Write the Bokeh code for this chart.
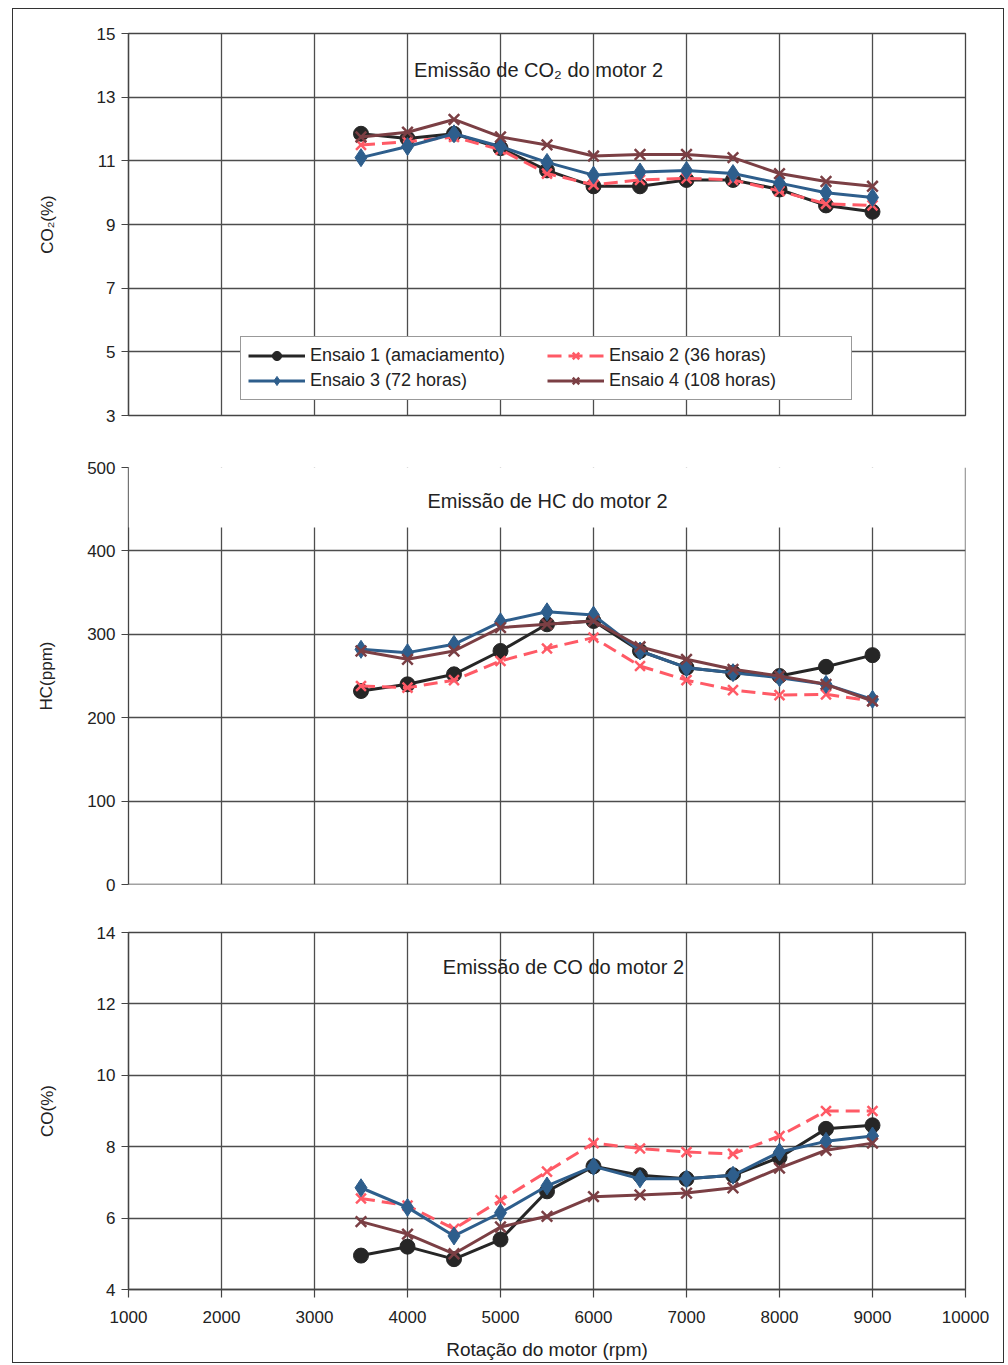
from bokeh.plotting import figure
from bokeh.layouts import column
from bokeh.models import (Range1d, FixedTicker, Legend, LegendItem, Label,
                          BoxAnnotation, Span)
from bokeh.embed import file_html
from bokeh.resources import INLINE

# ---------------- data ----------------
rpm = [3500, 4000, 4500, 5000, 5500, 6000, 6500, 7000, 7500, 8000, 8500, 9000]

co2_e1 = [11.85, 11.7, 11.85, 11.4, 10.7, 10.2, 10.2, 10.4, 10.4, 10.1, 9.6, 9.4]
co2_e2 = [11.5, 11.6, 11.75, 11.35, 10.6, 10.25, 10.4, 10.45, 10.4, 10.05, 9.65, 9.6]
co2_e3 = [11.1, 11.45, 11.85, 11.45, 10.95, 10.55, 10.65, 10.7, 10.6, 10.3, 10.0, 9.85]
co2_e4 = [11.75, 11.9, 12.3, 11.75, 11.5, 11.15, 11.2, 11.2, 11.1, 10.6, 10.35, 10.2]

hc_e1 = [232, 240, 252, 280, 312, 316, 280, 260, 254, 250, 261, 275]
hc_e2 = [238, 236, 245, 268, 283, 296, 262, 245, 233, 227, 228, 220]
hc_e3 = [282, 278, 288, 315, 327, 323, 280, 260, 254, 248, 240, 222]
hc_e4 = [280, 270, 280, 308, 312, 316, 285, 270, 258, 250, 240, 220]

co_e1 = [4.95, 5.2, 4.85, 5.4, 6.75, 7.45, 7.2, 7.1, 7.2, 7.7, 8.5, 8.6]
co_e2 = [6.55, 6.35, 5.7, 6.5, 7.3, 8.1, 7.95, 7.85, 7.8, 8.3, 9.0, 9.0]
co_e3 = [6.85, 6.3, 5.5, 6.15, 6.9, 7.45, 7.1, 7.1, 7.2, 7.85, 8.15, 8.3]
co_e4 = [5.9, 5.55, 5.0, 5.75, 6.05, 6.6, 6.65, 6.7, 6.85, 7.4, 7.9, 8.1]

series_labels = ["Ensaio 1 (amaciamento)", "Ensaio 2 (36 horas)",
                 "Ensaio 3 (72 horas)", "Ensaio 4 (108 horas)"]

x_ticks = [1000, 2000, 3000, 4000, 5000, 6000, 7000, 8000, 9000, 10000]
co2_ticks = [3, 5, 7, 9, 11, 13, 15]
hc_ticks = [0, 100, 200, 300, 400, 500]
co_ticks = [4, 6, 8, 10, 12, 14]

titles = ["Emissão de CO₂ do motor 2", "Emissão de HC do motor 2", "Emissão de CO do motor 2"]
y_labels = ["CO₂(%)", "HC(ppm)", "CO(%)"]
x_label = "Rotação do motor (rpm)"

# ---------------- style ----------------
FONT = "Liberation Sans"
TXT = "#222222"
GRID = "#4d4d4d"
EDGE = "#444444"
STYLES = [
    dict(color="#262626", marker="circle", size=15, dash="solid", lw=1),
    dict(color="#FF5A66", marker="x", size=14, dash="14 7", lw=2.5),
    dict(color="#2E5E8C", marker="diamond", size=18, dash="solid", lw=1),
    dict(color="#7B3F44", marker="x", size=15, dash="solid", lw=2.5),
]
LEFT, RIGHT = 115, 38


def make_panel(height, top, bottom, yr, yticks, ylabel, ylabel_standoff, show_x):
    p = figure(width=990, height=height, output_backend="svg",
               toolbar_location=None, x_range=Range1d(1000, 10000),
               y_range=yr, min_border_top=top, min_border_bottom=bottom,
               min_border_left=LEFT, min_border_right=RIGHT)
    p.background_fill_color = "white"
    p.border_fill_color = "white"
    p.outline_line_color = EDGE
    p.outline_line_width = 1.3
    for g in (p.xgrid, p.ygrid):
        g.grid_line_color = GRID
        g.grid_line_width = 1.3
    p.xgrid.ticker = FixedTicker(ticks=x_ticks)
    p.ygrid.ticker = FixedTicker(ticks=yticks)
    p.xaxis.ticker = FixedTicker(ticks=x_ticks)
    p.yaxis.ticker = FixedTicker(ticks=yticks)
    for ax in (p.xaxis, p.yaxis):
        ax.axis_line_color = EDGE
        ax.axis_line_width = 1.3
        ax.major_tick_line_color = EDGE
        ax.major_tick_line_width = 1.2
        ax.major_tick_in = 0
        ax.major_tick_out = 7
        ax.minor_tick_line_color = None
        ax.major_label_text_font = FONT
        ax.major_label_text_font_size = "17px"
        ax.major_label_text_color = TXT
        ax.axis_label_text_font = FONT
        ax.axis_label_text_font_style = "normal"
        ax.axis_label_text_color = TXT
    p.yaxis.major_label_standoff = 6
    p.yaxis.axis_label = ylabel
    p.yaxis.axis_label_text_font_size = "17px"
    p.yaxis.axis_label_standoff = ylabel_standoff
    if show_x:
        p.xaxis.major_tick_out = 8
        p.xaxis.major_label_standoff = 13
        p.xaxis.axis_label = x_label
        p.xaxis.axis_label_text_font_size = "19px"
        p.xaxis.axis_label_standoff = 13
    else:
        p.xaxis.visible = False
    return p


def add_series(p, values_list):
    items = []
    for lab, vals, st in zip(series_labels, values_list, STYLES):
        r1 = p.line(rpm, vals, line_color=st["color"], line_width=3,
                    line_dash=st["dash"])
        if st["marker"] == "x":
            r2 = p.scatter(rpm, vals, marker="x", size=st["size"],
                           line_color=st["color"], line_width=st["lw"])
        else:
            r2 = p.scatter(rpm, vals, marker=st["marker"], size=st["size"],
                           fill_color=st["color"], line_color=st["color"],
                           line_width=st["lw"])
        items.append(LegendItem(label=lab, renderers=[r1, r2]))
    return items


def add_title(p, text, x, y):
    p.add_layout(Label(x=x, y=y, text=text, text_align="center",
                       text_baseline="middle", text_font=FONT,
                       text_font_size="20px", text_color=TXT))


# ---------------- panel 1: CO2 ----------------
p1 = make_panel(436, 24, 30, Range1d(3, 15), co2_ticks, y_labels[0], 37, False)
items = add_series(p1, [co2_e1, co2_e2, co2_e3, co2_e4])
add_title(p1, titles[0], 5409, 13.84)
legend = Legend(items=items, location=(112, 15), orientation="horizontal",
                nrows=2, glyph_width=57, glyph_height=23, label_standoff=5,
                label_width=235, spacing=2, padding=7,
                label_text_font=FONT, label_text_font_size="18px",
                label_text_color=TXT, border_line_color="#333333",
                border_line_width=1.2, background_fill_color="white",
                background_fill_alpha=1)
p1.add_layout(legend)

# ---------------- panel 2: HC ----------------
p2 = make_panel(467, 22, 28, Range1d(0, 500), hc_ticks, y_labels[1], 28, False)
p2.outline_line_color = None
p2.add_layout(BoxAnnotation(bottom=428, fill_color="white", fill_alpha=1,
                            line_color=None))
p2.add_layout(Span(location=0, dimension="width", line_color=EDGE, line_width=1.3))
p2.add_layout(Span(location=10000, dimension="height", line_color=EDGE, line_width=1.3))
add_series(p2, [hc_e1, hc_e2, hc_e3, hc_e4])
add_title(p2, titles[1], 5505, 460)

# ---------------- panel 3: CO ----------------
p3 = make_panel(450, 20, 72, Range1d(4, 14), co_ticks, y_labels[2], 37, True)
add_series(p3, [co_e1, co_e2, co_e3, co_e4])
add_title(p3, titles[2], 5677, 13.02)

layout = column(p1, p2, p3, margin=(8, 0, 0, 12),
                styles={"border": "1.5px solid #333333"})

open("out.html", "w").write(file_html(layout, INLINE))
